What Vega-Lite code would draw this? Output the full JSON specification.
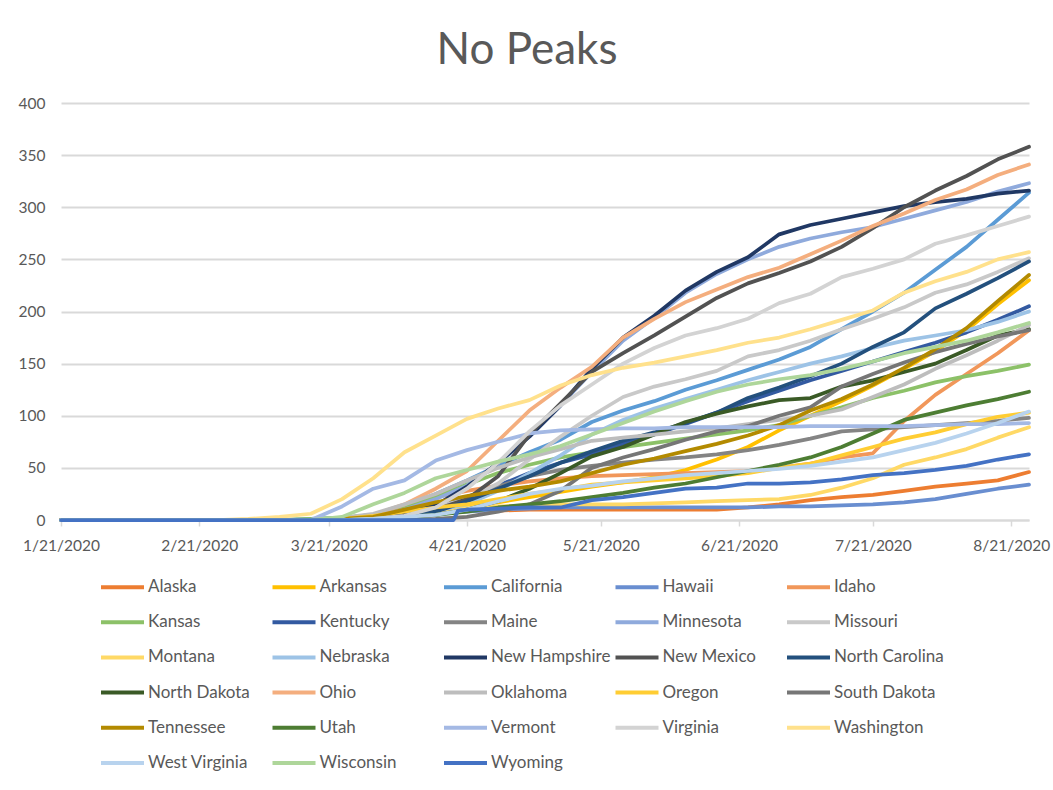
{
  "$schema": "https://vega.github.io/schema/vega-lite/v6.json",
  "width": 968,
  "height": 417,
  "autosize": {"type": "none"},
  "padding": {"left": 61, "top": 103, "right": 24, "bottom": 270},
  "background": "white",
  "title": {"text": "No Peaks", "font": "Lato", "fontSize": 44, "fontWeight": "normal", "color": "#595959", "anchor": "middle", "dx": -18, "offset": -12, "baseline": "alphabetic"},
  "data": {
    "format": {"parse": {"d": "date:'%Y-%m-%d'"}},
    "values": [
      {"s":"Alaska","d":"2020-01-21","v":0},{"s":"Alaska","d":"2020-03-17","v":0},{"s":"Alaska","d":"2020-03-24","v":1},{"s":"Alaska","d":"2020-03-31","v":3},{"s":"Alaska","d":"2020-04-07","v":7},{"s":"Alaska","d":"2020-04-14","v":9},{"s":"Alaska","d":"2020-04-21","v":9},{"s":"Alaska","d":"2020-04-28","v":9},{"s":"Alaska","d":"2020-05-05","v":10},{"s":"Alaska","d":"2020-05-12","v":10},{"s":"Alaska","d":"2020-05-19","v":10},{"s":"Alaska","d":"2020-05-26","v":10},{"s":"Alaska","d":"2020-06-02","v":10},{"s":"Alaska","d":"2020-06-09","v":10},{"s":"Alaska","d":"2020-06-16","v":10},{"s":"Alaska","d":"2020-06-23","v":12},{"s":"Alaska","d":"2020-06-30","v":15},{"s":"Alaska","d":"2020-07-07","v":19},{"s":"Alaska","d":"2020-07-14","v":22},{"s":"Alaska","d":"2020-07-21","v":24},{"s":"Alaska","d":"2020-07-28","v":28},{"s":"Alaska","d":"2020-08-04","v":32},{"s":"Alaska","d":"2020-08-11","v":35},{"s":"Alaska","d":"2020-08-18","v":38},{"s":"Alaska","d":"2020-08-25","v":46},

      {"s":"Arkansas","d":"2020-01-21","v":0},{"s":"Arkansas","d":"2020-03-17","v":0},{"s":"Arkansas","d":"2020-03-24","v":1},{"s":"Arkansas","d":"2020-03-31","v":3},{"s":"Arkansas","d":"2020-04-07","v":5},{"s":"Arkansas","d":"2020-04-14","v":9},{"s":"Arkansas","d":"2020-04-21","v":13},{"s":"Arkansas","d":"2020-04-28","v":17},{"s":"Arkansas","d":"2020-05-05","v":22},{"s":"Arkansas","d":"2020-05-12","v":27},{"s":"Arkansas","d":"2020-05-19","v":32},{"s":"Arkansas","d":"2020-05-26","v":36},{"s":"Arkansas","d":"2020-06-02","v":41},{"s":"Arkansas","d":"2020-06-09","v":48},{"s":"Arkansas","d":"2020-06-16","v":58},{"s":"Arkansas","d":"2020-06-23","v":70},{"s":"Arkansas","d":"2020-06-30","v":86},{"s":"Arkansas","d":"2020-07-07","v":100},{"s":"Arkansas","d":"2020-07-14","v":114},{"s":"Arkansas","d":"2020-07-21","v":129},{"s":"Arkansas","d":"2020-07-28","v":145},{"s":"Arkansas","d":"2020-08-04","v":162},{"s":"Arkansas","d":"2020-08-11","v":182},{"s":"Arkansas","d":"2020-08-18","v":207},{"s":"Arkansas","d":"2020-08-25","v":230},

      {"s":"California","d":"2020-01-21","v":0},{"s":"California","d":"2020-03-10","v":0},{"s":"California","d":"2020-03-17","v":1},{"s":"California","d":"2020-03-24","v":2},{"s":"California","d":"2020-03-31","v":5},{"s":"California","d":"2020-04-07","v":13},{"s":"California","d":"2020-04-14","v":25},{"s":"California","d":"2020-04-21","v":38},{"s":"California","d":"2020-04-28","v":52},{"s":"California","d":"2020-05-05","v":65},{"s":"California","d":"2020-05-12","v":77},{"s":"California","d":"2020-05-19","v":94},{"s":"California","d":"2020-05-26","v":105},{"s":"California","d":"2020-06-02","v":114},{"s":"California","d":"2020-06-09","v":125},{"s":"California","d":"2020-06-16","v":134},{"s":"California","d":"2020-06-23","v":144},{"s":"California","d":"2020-06-30","v":154},{"s":"California","d":"2020-07-07","v":166},{"s":"California","d":"2020-07-14","v":183},{"s":"California","d":"2020-07-21","v":200},{"s":"California","d":"2020-07-28","v":218},{"s":"California","d":"2020-08-04","v":240},{"s":"California","d":"2020-08-11","v":262},{"s":"California","d":"2020-08-18","v":288},{"s":"California","d":"2020-08-25","v":314},

      {"s":"Hawaii","d":"2020-01-21","v":0},{"s":"Hawaii","d":"2020-03-24","v":0},{"s":"Hawaii","d":"2020-03-31","v":1},{"s":"Hawaii","d":"2020-04-07","v":4},{"s":"Hawaii","d":"2020-04-14","v":6},{"s":"Hawaii","d":"2020-04-21","v":8},{"s":"Hawaii","d":"2020-04-28","v":10},{"s":"Hawaii","d":"2020-05-05","v":11},{"s":"Hawaii","d":"2020-05-12","v":12},{"s":"Hawaii","d":"2020-05-19","v":12},{"s":"Hawaii","d":"2020-05-26","v":12},{"s":"Hawaii","d":"2020-06-02","v":12},{"s":"Hawaii","d":"2020-06-09","v":12},{"s":"Hawaii","d":"2020-06-16","v":12},{"s":"Hawaii","d":"2020-06-23","v":12},{"s":"Hawaii","d":"2020-06-30","v":13},{"s":"Hawaii","d":"2020-07-07","v":13},{"s":"Hawaii","d":"2020-07-14","v":14},{"s":"Hawaii","d":"2020-07-21","v":15},{"s":"Hawaii","d":"2020-07-28","v":17},{"s":"Hawaii","d":"2020-08-04","v":20},{"s":"Hawaii","d":"2020-08-11","v":25},{"s":"Hawaii","d":"2020-08-18","v":30},{"s":"Hawaii","d":"2020-08-25","v":34},

      {"s":"Idaho","d":"2020-01-21","v":0},{"s":"Idaho","d":"2020-03-17","v":0},{"s":"Idaho","d":"2020-03-24","v":1},{"s":"Idaho","d":"2020-03-31","v":5},{"s":"Idaho","d":"2020-04-07","v":12},{"s":"Idaho","d":"2020-04-14","v":22},{"s":"Idaho","d":"2020-04-21","v":28},{"s":"Idaho","d":"2020-04-28","v":33},{"s":"Idaho","d":"2020-05-05","v":37},{"s":"Idaho","d":"2020-05-12","v":40},{"s":"Idaho","d":"2020-05-19","v":42},{"s":"Idaho","d":"2020-05-26","v":43},{"s":"Idaho","d":"2020-06-02","v":44},{"s":"Idaho","d":"2020-06-09","v":45},{"s":"Idaho","d":"2020-06-16","v":46},{"s":"Idaho","d":"2020-06-23","v":47},{"s":"Idaho","d":"2020-06-30","v":50},{"s":"Idaho","d":"2020-07-07","v":54},{"s":"Idaho","d":"2020-07-14","v":60},{"s":"Idaho","d":"2020-07-21","v":64},{"s":"Idaho","d":"2020-07-28","v":95},{"s":"Idaho","d":"2020-08-04","v":120},{"s":"Idaho","d":"2020-08-11","v":140},{"s":"Idaho","d":"2020-08-18","v":160},{"s":"Idaho","d":"2020-08-25","v":182},

      {"s":"Kansas","d":"2020-01-21","v":0},{"s":"Kansas","d":"2020-03-10","v":0},{"s":"Kansas","d":"2020-03-17","v":1},{"s":"Kansas","d":"2020-03-24","v":2},{"s":"Kansas","d":"2020-03-31","v":5},{"s":"Kansas","d":"2020-04-07","v":13},{"s":"Kansas","d":"2020-04-14","v":22},{"s":"Kansas","d":"2020-04-21","v":34},{"s":"Kansas","d":"2020-04-28","v":45},{"s":"Kansas","d":"2020-05-05","v":53},{"s":"Kansas","d":"2020-05-12","v":60},{"s":"Kansas","d":"2020-05-19","v":65},{"s":"Kansas","d":"2020-05-26","v":70},{"s":"Kansas","d":"2020-06-02","v":74},{"s":"Kansas","d":"2020-06-09","v":78},{"s":"Kansas","d":"2020-06-16","v":82},{"s":"Kansas","d":"2020-06-23","v":86},{"s":"Kansas","d":"2020-06-30","v":91},{"s":"Kansas","d":"2020-07-07","v":100},{"s":"Kansas","d":"2020-07-14","v":108},{"s":"Kansas","d":"2020-07-21","v":117},{"s":"Kansas","d":"2020-07-28","v":124},{"s":"Kansas","d":"2020-08-04","v":132},{"s":"Kansas","d":"2020-08-11","v":138},{"s":"Kansas","d":"2020-08-18","v":143},{"s":"Kansas","d":"2020-08-25","v":149},

      {"s":"Kentucky","d":"2020-01-21","v":0},{"s":"Kentucky","d":"2020-03-17","v":0},{"s":"Kentucky","d":"2020-03-24","v":1},{"s":"Kentucky","d":"2020-03-31","v":3},{"s":"Kentucky","d":"2020-04-07","v":8},{"s":"Kentucky","d":"2020-04-14","v":14},{"s":"Kentucky","d":"2020-04-21","v":22},{"s":"Kentucky","d":"2020-04-28","v":33},{"s":"Kentucky","d":"2020-05-05","v":45},{"s":"Kentucky","d":"2020-05-12","v":55},{"s":"Kentucky","d":"2020-05-19","v":63},{"s":"Kentucky","d":"2020-05-26","v":73},{"s":"Kentucky","d":"2020-06-02","v":82},{"s":"Kentucky","d":"2020-06-09","v":92},{"s":"Kentucky","d":"2020-06-16","v":103},{"s":"Kentucky","d":"2020-06-23","v":114},{"s":"Kentucky","d":"2020-06-30","v":124},{"s":"Kentucky","d":"2020-07-07","v":134},{"s":"Kentucky","d":"2020-07-14","v":143},{"s":"Kentucky","d":"2020-07-21","v":152},{"s":"Kentucky","d":"2020-07-28","v":161},{"s":"Kentucky","d":"2020-08-04","v":170},{"s":"Kentucky","d":"2020-08-11","v":180},{"s":"Kentucky","d":"2020-08-18","v":192},{"s":"Kentucky","d":"2020-08-25","v":205},

      {"s":"Maine","d":"2020-01-21","v":0},{"s":"Maine","d":"2020-03-17","v":0},{"s":"Maine","d":"2020-03-24","v":1},{"s":"Maine","d":"2020-03-31","v":4},{"s":"Maine","d":"2020-04-07","v":9},{"s":"Maine","d":"2020-04-14","v":14},{"s":"Maine","d":"2020-04-21","v":22},{"s":"Maine","d":"2020-04-28","v":32},{"s":"Maine","d":"2020-05-05","v":42},{"s":"Maine","d":"2020-05-12","v":48},{"s":"Maine","d":"2020-05-19","v":52},{"s":"Maine","d":"2020-05-26","v":55},{"s":"Maine","d":"2020-06-02","v":58},{"s":"Maine","d":"2020-06-09","v":60},{"s":"Maine","d":"2020-06-16","v":63},{"s":"Maine","d":"2020-06-23","v":67},{"s":"Maine","d":"2020-06-30","v":72},{"s":"Maine","d":"2020-07-07","v":78},{"s":"Maine","d":"2020-07-14","v":85},{"s":"Maine","d":"2020-07-21","v":87},{"s":"Maine","d":"2020-07-28","v":89},{"s":"Maine","d":"2020-08-04","v":91},{"s":"Maine","d":"2020-08-11","v":93},{"s":"Maine","d":"2020-08-18","v":95},{"s":"Maine","d":"2020-08-25","v":98},

      {"s":"Minnesota","d":"2020-01-21","v":0},{"s":"Minnesota","d":"2020-03-17","v":0},{"s":"Minnesota","d":"2020-03-24","v":1},{"s":"Minnesota","d":"2020-03-31","v":4},{"s":"Minnesota","d":"2020-04-07","v":10},{"s":"Minnesota","d":"2020-04-14","v":20},{"s":"Minnesota","d":"2020-04-21","v":33},{"s":"Minnesota","d":"2020-04-28","v":54},{"s":"Minnesota","d":"2020-05-05","v":80},{"s":"Minnesota","d":"2020-05-12","v":110},{"s":"Minnesota","d":"2020-05-19","v":142},{"s":"Minnesota","d":"2020-05-26","v":172},{"s":"Minnesota","d":"2020-06-02","v":194},{"s":"Minnesota","d":"2020-06-09","v":218},{"s":"Minnesota","d":"2020-06-16","v":236},{"s":"Minnesota","d":"2020-06-23","v":250},{"s":"Minnesota","d":"2020-06-30","v":262},{"s":"Minnesota","d":"2020-07-07","v":270},{"s":"Minnesota","d":"2020-07-14","v":276},{"s":"Minnesota","d":"2020-07-21","v":281},{"s":"Minnesota","d":"2020-07-28","v":289},{"s":"Minnesota","d":"2020-08-04","v":297},{"s":"Minnesota","d":"2020-08-11","v":305},{"s":"Minnesota","d":"2020-08-18","v":315},{"s":"Minnesota","d":"2020-08-25","v":323},

      {"s":"Missouri","d":"2020-01-21","v":0},{"s":"Missouri","d":"2020-03-17","v":0},{"s":"Missouri","d":"2020-03-24","v":1},{"s":"Missouri","d":"2020-03-31","v":3},{"s":"Missouri","d":"2020-04-07","v":7},{"s":"Missouri","d":"2020-04-14","v":12},{"s":"Missouri","d":"2020-04-21","v":20},{"s":"Missouri","d":"2020-04-28","v":35},{"s":"Missouri","d":"2020-05-05","v":58},{"s":"Missouri","d":"2020-05-12","v":80},{"s":"Missouri","d":"2020-05-19","v":100},{"s":"Missouri","d":"2020-05-26","v":118},{"s":"Missouri","d":"2020-06-02","v":128},{"s":"Missouri","d":"2020-06-09","v":135},{"s":"Missouri","d":"2020-06-16","v":143},{"s":"Missouri","d":"2020-06-23","v":157},{"s":"Missouri","d":"2020-06-30","v":163},{"s":"Missouri","d":"2020-07-07","v":172},{"s":"Missouri","d":"2020-07-14","v":183},{"s":"Missouri","d":"2020-07-21","v":193},{"s":"Missouri","d":"2020-07-28","v":204},{"s":"Missouri","d":"2020-08-04","v":218},{"s":"Missouri","d":"2020-08-11","v":226},{"s":"Missouri","d":"2020-08-18","v":238},{"s":"Missouri","d":"2020-08-25","v":251},

      {"s":"Montana","d":"2020-01-21","v":0},{"s":"Montana","d":"2020-03-24","v":0},{"s":"Montana","d":"2020-03-31","v":3},{"s":"Montana","d":"2020-04-07","v":5},{"s":"Montana","d":"2020-04-14","v":8},{"s":"Montana","d":"2020-04-21","v":12},{"s":"Montana","d":"2020-04-28","v":13},{"s":"Montana","d":"2020-05-05","v":14},{"s":"Montana","d":"2020-05-12","v":15},{"s":"Montana","d":"2020-05-19","v":15},{"s":"Montana","d":"2020-05-26","v":15},{"s":"Montana","d":"2020-06-02","v":16},{"s":"Montana","d":"2020-06-09","v":17},{"s":"Montana","d":"2020-06-16","v":18},{"s":"Montana","d":"2020-06-23","v":19},{"s":"Montana","d":"2020-06-30","v":20},{"s":"Montana","d":"2020-07-07","v":24},{"s":"Montana","d":"2020-07-14","v":31},{"s":"Montana","d":"2020-07-21","v":40},{"s":"Montana","d":"2020-07-28","v":53},{"s":"Montana","d":"2020-08-04","v":60},{"s":"Montana","d":"2020-08-11","v":68},{"s":"Montana","d":"2020-08-18","v":79},{"s":"Montana","d":"2020-08-25","v":89},

      {"s":"Nebraska","d":"2020-01-21","v":0},{"s":"Nebraska","d":"2020-03-24","v":0},{"s":"Nebraska","d":"2020-03-31","v":1},{"s":"Nebraska","d":"2020-04-07","v":4},{"s":"Nebraska","d":"2020-04-14","v":9},{"s":"Nebraska","d":"2020-04-21","v":15},{"s":"Nebraska","d":"2020-04-28","v":28},{"s":"Nebraska","d":"2020-05-05","v":45},{"s":"Nebraska","d":"2020-05-12","v":62},{"s":"Nebraska","d":"2020-05-19","v":82},{"s":"Nebraska","d":"2020-05-26","v":96},{"s":"Nebraska","d":"2020-06-02","v":107},{"s":"Nebraska","d":"2020-06-09","v":116},{"s":"Nebraska","d":"2020-06-16","v":125},{"s":"Nebraska","d":"2020-06-23","v":134},{"s":"Nebraska","d":"2020-06-30","v":142},{"s":"Nebraska","d":"2020-07-07","v":150},{"s":"Nebraska","d":"2020-07-14","v":157},{"s":"Nebraska","d":"2020-07-21","v":165},{"s":"Nebraska","d":"2020-07-28","v":172},{"s":"Nebraska","d":"2020-08-04","v":177},{"s":"Nebraska","d":"2020-08-11","v":182},{"s":"Nebraska","d":"2020-08-18","v":190},{"s":"Nebraska","d":"2020-08-25","v":200},

      {"s":"New Hampshire","d":"2020-01-21","v":0},{"s":"New Hampshire","d":"2020-03-24","v":0},{"s":"New Hampshire","d":"2020-03-31","v":2},{"s":"New Hampshire","d":"2020-04-07","v":6},{"s":"New Hampshire","d":"2020-04-14","v":14},{"s":"New Hampshire","d":"2020-04-21","v":32},{"s":"New Hampshire","d":"2020-04-28","v":55},{"s":"New Hampshire","d":"2020-05-05","v":80},{"s":"New Hampshire","d":"2020-05-12","v":110},{"s":"New Hampshire","d":"2020-05-19","v":145},{"s":"New Hampshire","d":"2020-05-26","v":175},{"s":"New Hampshire","d":"2020-06-02","v":196},{"s":"New Hampshire","d":"2020-06-09","v":220},{"s":"New Hampshire","d":"2020-06-16","v":238},{"s":"New Hampshire","d":"2020-06-23","v":252},{"s":"New Hampshire","d":"2020-06-30","v":274},{"s":"New Hampshire","d":"2020-07-07","v":283},{"s":"New Hampshire","d":"2020-07-14","v":289},{"s":"New Hampshire","d":"2020-07-21","v":295},{"s":"New Hampshire","d":"2020-07-28","v":301},{"s":"New Hampshire","d":"2020-08-04","v":305},{"s":"New Hampshire","d":"2020-08-11","v":308},{"s":"New Hampshire","d":"2020-08-18","v":313},{"s":"New Hampshire","d":"2020-08-25","v":316},

      {"s":"New Mexico","d":"2020-01-21","v":0},{"s":"New Mexico","d":"2020-03-24","v":0},{"s":"New Mexico","d":"2020-03-31","v":1},{"s":"New Mexico","d":"2020-04-07","v":4},{"s":"New Mexico","d":"2020-04-14","v":10},{"s":"New Mexico","d":"2020-04-21","v":20},{"s":"New Mexico","d":"2020-04-28","v":42},{"s":"New Mexico","d":"2020-05-05","v":82},{"s":"New Mexico","d":"2020-05-12","v":112},{"s":"New Mexico","d":"2020-05-19","v":142},{"s":"New Mexico","d":"2020-05-26","v":160},{"s":"New Mexico","d":"2020-06-02","v":177},{"s":"New Mexico","d":"2020-06-09","v":195},{"s":"New Mexico","d":"2020-06-16","v":213},{"s":"New Mexico","d":"2020-06-23","v":227},{"s":"New Mexico","d":"2020-06-30","v":237},{"s":"New Mexico","d":"2020-07-07","v":248},{"s":"New Mexico","d":"2020-07-14","v":262},{"s":"New Mexico","d":"2020-07-21","v":280},{"s":"New Mexico","d":"2020-07-28","v":300},{"s":"New Mexico","d":"2020-08-04","v":316},{"s":"New Mexico","d":"2020-08-11","v":330},{"s":"New Mexico","d":"2020-08-18","v":346},{"s":"New Mexico","d":"2020-08-25","v":358},

      {"s":"North Carolina","d":"2020-01-21","v":0},{"s":"North Carolina","d":"2020-03-24","v":0},{"s":"North Carolina","d":"2020-03-31","v":1},{"s":"North Carolina","d":"2020-04-07","v":3},{"s":"North Carolina","d":"2020-04-14","v":8},{"s":"North Carolina","d":"2020-04-21","v":18},{"s":"North Carolina","d":"2020-04-28","v":30},{"s":"North Carolina","d":"2020-05-05","v":42},{"s":"North Carolina","d":"2020-05-12","v":55},{"s":"North Carolina","d":"2020-05-19","v":66},{"s":"North Carolina","d":"2020-05-26","v":76},{"s":"North Carolina","d":"2020-06-02","v":84},{"s":"North Carolina","d":"2020-06-09","v":93},{"s":"North Carolina","d":"2020-06-16","v":103},{"s":"North Carolina","d":"2020-06-23","v":117},{"s":"North Carolina","d":"2020-06-30","v":127},{"s":"North Carolina","d":"2020-07-07","v":138},{"s":"North Carolina","d":"2020-07-14","v":150},{"s":"North Carolina","d":"2020-07-21","v":166},{"s":"North Carolina","d":"2020-07-28","v":180},{"s":"North Carolina","d":"2020-08-04","v":203},{"s":"North Carolina","d":"2020-08-11","v":217},{"s":"North Carolina","d":"2020-08-18","v":232},{"s":"North Carolina","d":"2020-08-25","v":248},

      {"s":"North Dakota","d":"2020-01-21","v":0},{"s":"North Dakota","d":"2020-03-31","v":0},{"s":"North Dakota","d":"2020-04-07","v":2},{"s":"North Dakota","d":"2020-04-14","v":5},{"s":"North Dakota","d":"2020-04-21","v":10},{"s":"North Dakota","d":"2020-04-28","v":18},{"s":"North Dakota","d":"2020-05-05","v":30},{"s":"North Dakota","d":"2020-05-12","v":45},{"s":"North Dakota","d":"2020-05-19","v":61},{"s":"North Dakota","d":"2020-05-26","v":70},{"s":"North Dakota","d":"2020-06-02","v":82},{"s":"North Dakota","d":"2020-06-09","v":94},{"s":"North Dakota","d":"2020-06-16","v":102},{"s":"North Dakota","d":"2020-06-23","v":109},{"s":"North Dakota","d":"2020-06-30","v":115},{"s":"North Dakota","d":"2020-07-07","v":117},{"s":"North Dakota","d":"2020-07-14","v":128},{"s":"North Dakota","d":"2020-07-21","v":134},{"s":"North Dakota","d":"2020-07-28","v":142},{"s":"North Dakota","d":"2020-08-04","v":150},{"s":"North Dakota","d":"2020-08-11","v":163},{"s":"North Dakota","d":"2020-08-18","v":177},{"s":"North Dakota","d":"2020-08-25","v":183},

      {"s":"Ohio","d":"2020-01-21","v":0},{"s":"Ohio","d":"2020-03-17","v":0},{"s":"Ohio","d":"2020-03-24","v":1},{"s":"Ohio","d":"2020-03-31","v":5},{"s":"Ohio","d":"2020-04-07","v":15},{"s":"Ohio","d":"2020-04-14","v":30},{"s":"Ohio","d":"2020-04-21","v":47},{"s":"Ohio","d":"2020-04-28","v":76},{"s":"Ohio","d":"2020-05-05","v":105},{"s":"Ohio","d":"2020-05-12","v":127},{"s":"Ohio","d":"2020-05-19","v":147},{"s":"Ohio","d":"2020-05-26","v":175},{"s":"Ohio","d":"2020-06-02","v":193},{"s":"Ohio","d":"2020-06-09","v":209},{"s":"Ohio","d":"2020-06-16","v":221},{"s":"Ohio","d":"2020-06-23","v":233},{"s":"Ohio","d":"2020-06-30","v":242},{"s":"Ohio","d":"2020-07-07","v":255},{"s":"Ohio","d":"2020-07-14","v":268},{"s":"Ohio","d":"2020-07-21","v":282},{"s":"Ohio","d":"2020-07-28","v":294},{"s":"Ohio","d":"2020-08-04","v":307},{"s":"Ohio","d":"2020-08-11","v":317},{"s":"Ohio","d":"2020-08-18","v":331},{"s":"Ohio","d":"2020-08-25","v":341},

      {"s":"Oklahoma","d":"2020-01-21","v":0},{"s":"Oklahoma","d":"2020-03-17","v":0},{"s":"Oklahoma","d":"2020-03-24","v":2},{"s":"Oklahoma","d":"2020-03-31","v":6},{"s":"Oklahoma","d":"2020-04-07","v":15},{"s":"Oklahoma","d":"2020-04-14","v":25},{"s":"Oklahoma","d":"2020-04-21","v":38},{"s":"Oklahoma","d":"2020-04-28","v":50},{"s":"Oklahoma","d":"2020-05-05","v":60},{"s":"Oklahoma","d":"2020-05-12","v":68},{"s":"Oklahoma","d":"2020-05-19","v":76},{"s":"Oklahoma","d":"2020-05-26","v":79},{"s":"Oklahoma","d":"2020-06-02","v":82},{"s":"Oklahoma","d":"2020-06-09","v":85},{"s":"Oklahoma","d":"2020-06-16","v":88},{"s":"Oklahoma","d":"2020-06-23","v":92},{"s":"Oklahoma","d":"2020-06-30","v":96},{"s":"Oklahoma","d":"2020-07-07","v":100},{"s":"Oklahoma","d":"2020-07-14","v":106},{"s":"Oklahoma","d":"2020-07-21","v":118},{"s":"Oklahoma","d":"2020-07-28","v":130},{"s":"Oklahoma","d":"2020-08-04","v":145},{"s":"Oklahoma","d":"2020-08-11","v":158},{"s":"Oklahoma","d":"2020-08-18","v":172},{"s":"Oklahoma","d":"2020-08-25","v":187},

      {"s":"Oregon","d":"2020-01-21","v":0},{"s":"Oregon","d":"2020-03-17","v":0},{"s":"Oregon","d":"2020-03-24","v":1},{"s":"Oregon","d":"2020-03-31","v":4},{"s":"Oregon","d":"2020-04-07","v":8},{"s":"Oregon","d":"2020-04-14","v":12},{"s":"Oregon","d":"2020-04-21","v":15},{"s":"Oregon","d":"2020-04-28","v":20},{"s":"Oregon","d":"2020-05-05","v":25},{"s":"Oregon","d":"2020-05-12","v":29},{"s":"Oregon","d":"2020-05-19","v":34},{"s":"Oregon","d":"2020-05-26","v":36},{"s":"Oregon","d":"2020-06-02","v":38},{"s":"Oregon","d":"2020-06-09","v":40},{"s":"Oregon","d":"2020-06-16","v":42},{"s":"Oregon","d":"2020-06-23","v":45},{"s":"Oregon","d":"2020-06-30","v":50},{"s":"Oregon","d":"2020-07-07","v":54},{"s":"Oregon","d":"2020-07-14","v":62},{"s":"Oregon","d":"2020-07-21","v":70},{"s":"Oregon","d":"2020-07-28","v":78},{"s":"Oregon","d":"2020-08-04","v":84},{"s":"Oregon","d":"2020-08-11","v":92},{"s":"Oregon","d":"2020-08-18","v":99},{"s":"Oregon","d":"2020-08-25","v":103},

      {"s":"South Dakota","d":"2020-01-21","v":0},{"s":"South Dakota","d":"2020-04-07","v":0},{"s":"South Dakota","d":"2020-04-14","v":1},{"s":"South Dakota","d":"2020-04-21","v":3},{"s":"South Dakota","d":"2020-04-28","v":8},{"s":"South Dakota","d":"2020-05-05","v":15},{"s":"South Dakota","d":"2020-05-12","v":28},{"s":"South Dakota","d":"2020-05-19","v":50},{"s":"South Dakota","d":"2020-05-26","v":60},{"s":"South Dakota","d":"2020-06-02","v":68},{"s":"South Dakota","d":"2020-06-09","v":77},{"s":"South Dakota","d":"2020-06-16","v":85},{"s":"South Dakota","d":"2020-06-23","v":90},{"s":"South Dakota","d":"2020-06-30","v":100},{"s":"South Dakota","d":"2020-07-07","v":108},{"s":"South Dakota","d":"2020-07-14","v":128},{"s":"South Dakota","d":"2020-07-21","v":140},{"s":"South Dakota","d":"2020-07-28","v":151},{"s":"South Dakota","d":"2020-08-04","v":161},{"s":"South Dakota","d":"2020-08-11","v":169},{"s":"South Dakota","d":"2020-08-18","v":176},{"s":"South Dakota","d":"2020-08-25","v":182},

      {"s":"Tennessee","d":"2020-01-21","v":0},{"s":"Tennessee","d":"2020-03-17","v":0},{"s":"Tennessee","d":"2020-03-24","v":1},{"s":"Tennessee","d":"2020-03-31","v":3},{"s":"Tennessee","d":"2020-04-07","v":10},{"s":"Tennessee","d":"2020-04-14","v":17},{"s":"Tennessee","d":"2020-04-21","v":23},{"s":"Tennessee","d":"2020-04-28","v":28},{"s":"Tennessee","d":"2020-05-05","v":32},{"s":"Tennessee","d":"2020-05-12","v":37},{"s":"Tennessee","d":"2020-05-19","v":45},{"s":"Tennessee","d":"2020-05-26","v":53},{"s":"Tennessee","d":"2020-06-02","v":59},{"s":"Tennessee","d":"2020-06-09","v":66},{"s":"Tennessee","d":"2020-06-16","v":73},{"s":"Tennessee","d":"2020-06-23","v":81},{"s":"Tennessee","d":"2020-06-30","v":91},{"s":"Tennessee","d":"2020-07-07","v":105},{"s":"Tennessee","d":"2020-07-14","v":116},{"s":"Tennessee","d":"2020-07-21","v":130},{"s":"Tennessee","d":"2020-07-28","v":146},{"s":"Tennessee","d":"2020-08-04","v":164},{"s":"Tennessee","d":"2020-08-11","v":184},{"s":"Tennessee","d":"2020-08-18","v":210},{"s":"Tennessee","d":"2020-08-25","v":235},

      {"s":"Utah","d":"2020-01-21","v":0},{"s":"Utah","d":"2020-03-24","v":0},{"s":"Utah","d":"2020-03-31","v":1},{"s":"Utah","d":"2020-04-07","v":3},{"s":"Utah","d":"2020-04-14","v":5},{"s":"Utah","d":"2020-04-21","v":8},{"s":"Utah","d":"2020-04-28","v":12},{"s":"Utah","d":"2020-05-05","v":15},{"s":"Utah","d":"2020-05-12","v":18},{"s":"Utah","d":"2020-05-19","v":22},{"s":"Utah","d":"2020-05-26","v":26},{"s":"Utah","d":"2020-06-02","v":31},{"s":"Utah","d":"2020-06-09","v":35},{"s":"Utah","d":"2020-06-16","v":41},{"s":"Utah","d":"2020-06-23","v":47},{"s":"Utah","d":"2020-06-30","v":53},{"s":"Utah","d":"2020-07-07","v":60},{"s":"Utah","d":"2020-07-14","v":70},{"s":"Utah","d":"2020-07-21","v":83},{"s":"Utah","d":"2020-07-28","v":96},{"s":"Utah","d":"2020-08-04","v":103},{"s":"Utah","d":"2020-08-11","v":110},{"s":"Utah","d":"2020-08-18","v":116},{"s":"Utah","d":"2020-08-25","v":123},

      {"s":"Vermont","d":"2020-01-21","v":0},{"s":"Vermont","d":"2020-03-17","v":0},{"s":"Vermont","d":"2020-03-24","v":13},{"s":"Vermont","d":"2020-03-31","v":30},{"s":"Vermont","d":"2020-04-07","v":38},{"s":"Vermont","d":"2020-04-14","v":57},{"s":"Vermont","d":"2020-04-21","v":67},{"s":"Vermont","d":"2020-04-28","v":75},{"s":"Vermont","d":"2020-05-05","v":83},{"s":"Vermont","d":"2020-05-12","v":86},{"s":"Vermont","d":"2020-05-19","v":87},{"s":"Vermont","d":"2020-05-26","v":88},{"s":"Vermont","d":"2020-06-02","v":88},{"s":"Vermont","d":"2020-06-09","v":89},{"s":"Vermont","d":"2020-06-16","v":89},{"s":"Vermont","d":"2020-06-23","v":89},{"s":"Vermont","d":"2020-06-30","v":89},{"s":"Vermont","d":"2020-07-07","v":90},{"s":"Vermont","d":"2020-07-14","v":90},{"s":"Vermont","d":"2020-07-21","v":90},{"s":"Vermont","d":"2020-07-28","v":90},{"s":"Vermont","d":"2020-08-04","v":91},{"s":"Vermont","d":"2020-08-11","v":92},{"s":"Vermont","d":"2020-08-18","v":92},{"s":"Vermont","d":"2020-08-25","v":93},

      {"s":"Virginia","d":"2020-01-21","v":0},{"s":"Virginia","d":"2020-03-24","v":0},{"s":"Virginia","d":"2020-03-31","v":1},{"s":"Virginia","d":"2020-04-07","v":4},{"s":"Virginia","d":"2020-04-14","v":12},{"s":"Virginia","d":"2020-04-21","v":30},{"s":"Virginia","d":"2020-04-28","v":55},{"s":"Virginia","d":"2020-05-05","v":85},{"s":"Virginia","d":"2020-05-12","v":110},{"s":"Virginia","d":"2020-05-19","v":130},{"s":"Virginia","d":"2020-05-26","v":150},{"s":"Virginia","d":"2020-06-02","v":165},{"s":"Virginia","d":"2020-06-09","v":177},{"s":"Virginia","d":"2020-06-16","v":184},{"s":"Virginia","d":"2020-06-23","v":193},{"s":"Virginia","d":"2020-06-30","v":208},{"s":"Virginia","d":"2020-07-07","v":217},{"s":"Virginia","d":"2020-07-14","v":233},{"s":"Virginia","d":"2020-07-21","v":241},{"s":"Virginia","d":"2020-07-28","v":250},{"s":"Virginia","d":"2020-08-04","v":265},{"s":"Virginia","d":"2020-08-11","v":273},{"s":"Virginia","d":"2020-08-18","v":282},{"s":"Virginia","d":"2020-08-25","v":291},

      {"s":"Washington","d":"2020-01-21","v":0},{"s":"Washington","d":"2020-02-25","v":0},{"s":"Washington","d":"2020-03-03","v":1},{"s":"Washington","d":"2020-03-10","v":3},{"s":"Washington","d":"2020-03-17","v":6},{"s":"Washington","d":"2020-03-24","v":20},{"s":"Washington","d":"2020-03-31","v":40},{"s":"Washington","d":"2020-04-07","v":65},{"s":"Washington","d":"2020-04-14","v":81},{"s":"Washington","d":"2020-04-21","v":97},{"s":"Washington","d":"2020-04-28","v":107},{"s":"Washington","d":"2020-05-05","v":115},{"s":"Washington","d":"2020-05-12","v":129},{"s":"Washington","d":"2020-05-19","v":139},{"s":"Washington","d":"2020-05-26","v":146},{"s":"Washington","d":"2020-06-02","v":151},{"s":"Washington","d":"2020-06-09","v":157},{"s":"Washington","d":"2020-06-16","v":163},{"s":"Washington","d":"2020-06-23","v":170},{"s":"Washington","d":"2020-06-30","v":175},{"s":"Washington","d":"2020-07-07","v":183},{"s":"Washington","d":"2020-07-14","v":192},{"s":"Washington","d":"2020-07-21","v":201},{"s":"Washington","d":"2020-07-28","v":218},{"s":"Washington","d":"2020-08-04","v":229},{"s":"Washington","d":"2020-08-11","v":238},{"s":"Washington","d":"2020-08-18","v":250},{"s":"Washington","d":"2020-08-25","v":257},

      {"s":"West Virginia","d":"2020-01-21","v":0},{"s":"West Virginia","d":"2020-03-24","v":0},{"s":"West Virginia","d":"2020-03-31","v":1},{"s":"West Virginia","d":"2020-04-07","v":3},{"s":"West Virginia","d":"2020-04-14","v":5},{"s":"West Virginia","d":"2020-04-21","v":10},{"s":"West Virginia","d":"2020-04-28","v":18},{"s":"West Virginia","d":"2020-05-05","v":25},{"s":"West Virginia","d":"2020-05-12","v":30},{"s":"West Virginia","d":"2020-05-19","v":33},{"s":"West Virginia","d":"2020-05-26","v":37},{"s":"West Virginia","d":"2020-06-02","v":40},{"s":"West Virginia","d":"2020-06-09","v":43},{"s":"West Virginia","d":"2020-06-16","v":45},{"s":"West Virginia","d":"2020-06-23","v":47},{"s":"West Virginia","d":"2020-06-30","v":49},{"s":"West Virginia","d":"2020-07-07","v":52},{"s":"West Virginia","d":"2020-07-14","v":56},{"s":"West Virginia","d":"2020-07-21","v":60},{"s":"West Virginia","d":"2020-07-28","v":67},{"s":"West Virginia","d":"2020-08-04","v":74},{"s":"West Virginia","d":"2020-08-11","v":83},{"s":"West Virginia","d":"2020-08-18","v":93},{"s":"West Virginia","d":"2020-08-25","v":104},

      {"s":"Wisconsin","d":"2020-01-21","v":0},{"s":"Wisconsin","d":"2020-03-17","v":0},{"s":"Wisconsin","d":"2020-03-24","v":3},{"s":"Wisconsin","d":"2020-03-31","v":15},{"s":"Wisconsin","d":"2020-04-07","v":26},{"s":"Wisconsin","d":"2020-04-14","v":40},{"s":"Wisconsin","d":"2020-04-21","v":48},{"s":"Wisconsin","d":"2020-04-28","v":56},{"s":"Wisconsin","d":"2020-05-05","v":63},{"s":"Wisconsin","d":"2020-05-12","v":71},{"s":"Wisconsin","d":"2020-05-19","v":82},{"s":"Wisconsin","d":"2020-05-26","v":93},{"s":"Wisconsin","d":"2020-06-02","v":104},{"s":"Wisconsin","d":"2020-06-09","v":114},{"s":"Wisconsin","d":"2020-06-16","v":123},{"s":"Wisconsin","d":"2020-06-23","v":130},{"s":"Wisconsin","d":"2020-06-30","v":135},{"s":"Wisconsin","d":"2020-07-07","v":139},{"s":"Wisconsin","d":"2020-07-14","v":145},{"s":"Wisconsin","d":"2020-07-21","v":152},{"s":"Wisconsin","d":"2020-07-28","v":160},{"s":"Wisconsin","d":"2020-08-04","v":166},{"s":"Wisconsin","d":"2020-08-11","v":172},{"s":"Wisconsin","d":"2020-08-18","v":180},{"s":"Wisconsin","d":"2020-08-25","v":189},

      {"s":"Wyoming","d":"2020-01-21","v":0},{"s":"Wyoming","d":"2020-04-18","v":0},{"s":"Wyoming","d":"2020-04-19","v":9},{"s":"Wyoming","d":"2020-04-21","v":10},{"s":"Wyoming","d":"2020-04-28","v":11},{"s":"Wyoming","d":"2020-05-05","v":12},{"s":"Wyoming","d":"2020-05-12","v":12},{"s":"Wyoming","d":"2020-05-19","v":19},{"s":"Wyoming","d":"2020-05-26","v":22},{"s":"Wyoming","d":"2020-06-02","v":26},{"s":"Wyoming","d":"2020-06-09","v":30},{"s":"Wyoming","d":"2020-06-16","v":31},{"s":"Wyoming","d":"2020-06-23","v":35},{"s":"Wyoming","d":"2020-06-30","v":35},{"s":"Wyoming","d":"2020-07-07","v":36},{"s":"Wyoming","d":"2020-07-14","v":39},{"s":"Wyoming","d":"2020-07-21","v":43},{"s":"Wyoming","d":"2020-07-28","v":45},{"s":"Wyoming","d":"2020-08-04","v":48},{"s":"Wyoming","d":"2020-08-11","v":52},{"s":"Wyoming","d":"2020-08-18","v":58},{"s":"Wyoming","d":"2020-08-25","v":63}
    ]
  },
  "mark": {"type": "line", "strokeWidth": 3.75, "strokeJoin": "round", "strokeCap": "round"},
  "encoding": {
    "x": {
      "field": "d",
      "type": "temporal",
      "scale": {"domain": [{"year": 2020, "month": 1, "date": 21}, {"year": 2020, "month": 8, "date": 25}]},
      "axis": {
        "title": null,
        "values": [
          {"year": 2020, "month": 1, "date": 21},
          {"year": 2020, "month": 2, "date": 21},
          {"year": 2020, "month": 3, "date": 21},
          {"year": 2020, "month": 4, "date": 21},
          {"year": 2020, "month": 5, "date": 21},
          {"year": 2020, "month": 6, "date": 21},
          {"year": 2020, "month": 7, "date": 21},
          {"year": 2020, "month": 8, "date": 21}
        ],
        "format": "%-m/%-d/%Y",
        "grid": false,
        "labelFont": "Lato",
        "labelFontSize": 15.5,
        "labelColor": "#595959",
        "labelPadding": 12,
        "labelFlush": false,
        "labelOverlap": false,
        "domainColor": "#D9D9D9",
        "domainWidth": 2,
        "tickColor": "#D9D9D9",
        "tickWidth": 1.5,
        "tickSize": 6
      }
    },
    "y": {
      "field": "v",
      "type": "quantitative",
      "scale": {"domain": [0, 400]},
      "axis": {
        "title": null,
        "values": [0, 50, 100, 150, 200, 250, 300, 350, 400],
        "grid": true,
        "gridColor": "#D9D9D9",
        "gridWidth": 1.8,
        "domain": false,
        "ticks": false,
        "labelFont": "Lato",
        "labelFontSize": 15.5,
        "labelColor": "#595959",
        "labelPadding": 16
      }
    },
    "color": {
      "field": "s",
      "type": "nominal",
      "scale": {
        "domain": ["Alaska", "Arkansas", "California", "Hawaii", "Idaho", "Kansas", "Kentucky", "Maine", "Minnesota", "Missouri", "Montana", "Nebraska", "New Hampshire", "New Mexico", "North Carolina", "North Dakota", "Ohio", "Oklahoma", "Oregon", "South Dakota", "Tennessee", "Utah", "Vermont", "Virginia", "Washington", "West Virginia", "Wisconsin", "Wyoming"],
        "range": ["#ED7D31", "#FFC000", "#5B9BD5", "#698ED0", "#F1975A", "#8CC168", "#335AA1", "#848484", "#8FAADC", "#C9C9C9", "#FFD966", "#9DC3E6", "#203864", "#525252", "#23507D", "#3A5A26", "#F4AE7E", "#BDBDBD", "#FFCD33", "#767676", "#B38A00", "#4D7D33", "#A4B9E4", "#D3D3D3", "#FFE18C", "#B8D3EE", "#AED69A", "#4472C4"]
      },
      "legend": {
        "title": null,
        "orient": "none",
        "legendX": 38,
        "legendY": 460.5,
        "direction": "horizontal",
        "columns": 5,
        "gridAlign": "all",
        "symbolType": "stroke",
        "symbolSize": 1849,
        "symbolStrokeWidth": 4,
        "labelFont": "Lato",
        "labelFontSize": 17,
        "labelColor": "#595959",
        "labelOffset": 2,
        "labelLimit": 220,
        "columnPadding": -3.5,
        "rowPadding": 3.2
      }
    }
  },
  "config": {"view": {"stroke": null}, "font": "Lato"}
}
